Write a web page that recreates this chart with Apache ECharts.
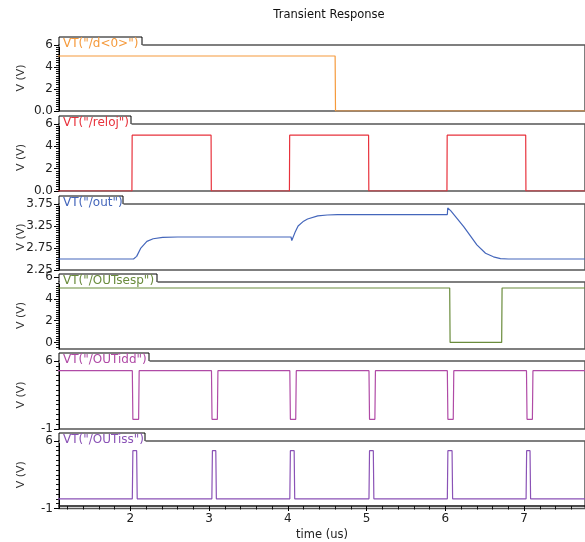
<!DOCTYPE html>
<html>
<head>
<meta charset="utf-8">
<script src="https://cdn.jsdelivr.net/npm/echarts@6/dist/echarts.min.js"></script>
<style>
html, body { margin: 0; padding: 0; background: #fff; }
#chart { width: 585px; height: 542px; }
</style>
</head>
<body>
<div id="chart"></div>
<script>
// signal names and colours
var signalNames = ['VT("/d<0>")', 'VT("/reloj")', 'VT("/out")', 'VT("/OUTsesp")', 'VT("/OUTidd")', 'VT("/OUTiss")'];
var signalColors = ['#f59a3c', '#e8323c', '#4466bb', '#6a8c3c', '#b04aa6', '#8a52b6'];

// waveforms, time in us
var d0T = [1.0, 4.60, 4.605, 7.8];
var d0V = [5, 5, 0, 0];

var relojT = [1.0, 2.02, 2.023, 3.025, 3.028, 4.02, 4.023, 5.025, 5.028, 6.02, 6.023, 7.02, 7.023, 7.8];
var relojV = [0, 0, 5, 5, 0, 0, 5, 5, 0, 0, 5, 5, 0, 0];

var outT = [1.0, 2.04, 2.05, 2.08, 2.13, 2.21, 2.29, 2.41, 2.6, 4.04, 4.05, 4.09, 4.13, 4.2, 4.25, 4.38, 4.5, 4.63, 6.025, 6.03, 6.045, 6.067, 6.15, 6.235, 6.32, 6.40, 6.51, 6.61, 6.70, 6.8, 7.8];
var outV = [2.5, 2.5, 2.46, 2.56, 2.74, 2.9, 2.96, 2.99, 3.0, 3.0, 2.92, 3.1, 3.25, 3.36, 3.41, 3.48, 3.5, 3.51, 3.51, 3.66, 3.62, 3.6, 3.42, 3.23, 3.02, 2.82, 2.63, 2.55, 2.51, 2.5, 2.5];

var sespT = [1.0, 6.055, 6.06, 6.715, 6.72, 7.8];
var sespV = [5, 5, 0, 0, 5, 5];

var iddT = [1.0, 2.025, 2.032, 2.105, 2.112, 3.03, 3.037, 3.105, 3.112, 4.025, 4.032, 4.10, 4.107, 5.03, 5.037, 5.105, 5.112, 6.025, 6.032, 6.10, 6.107, 7.03, 7.037, 7.105, 7.112, 7.8];
var iddV = [5, 5, 0, 0, 5, 5, 0, 0, 5, 5, 0, 0, 5, 5, 0, 0, 5, 5, 0, 0, 5, 5, 0, 0, 5, 5];

var issT = [1.0, 2.025, 2.032, 2.08, 2.087, 3.035, 3.042, 3.085, 3.092, 4.025, 4.032, 4.08, 4.087, 5.03, 5.037, 5.085, 5.092, 6.025, 6.032, 6.085, 6.092, 7.025, 7.032, 7.075, 7.082, 7.8];
var issV = [0, 0, 5, 5, 0, 0, 5, 5, 0, 0, 5, 5, 0, 0, 5, 5, 0, 0, 5, 5, 0, 0, 5, 5, 0, 0];

var signalT = [d0T, relojT, outT, sespT, iddT, issT];
var signalV = [d0V, relojV, outV, sespV, iddV, issV];

// axes
var yMin = [0, 0, 2.25, -0.6, -1, -1];
var yMax = [6, 6, 3.75, 5.55, 6, 6];
var yMinor = [
  [0.2, 0.4, 0.6, 0.8, 1, 1.2, 1.4, 1.6, 1.8, 2, 2.2, 2.4, 2.6, 2.8, 3, 3.2, 3.4, 3.6, 3.8, 4, 4.2, 4.4, 4.6, 4.8, 5, 5.2, 5.4, 5.6, 5.8],
  [0.2, 0.4, 0.6, 0.8, 1, 1.2, 1.4, 1.6, 1.8, 2, 2.2, 2.4, 2.6, 2.8, 3, 3.2, 3.4, 3.6, 3.8, 4, 4.2, 4.4, 4.6, 4.8, 5, 5.2, 5.4, 5.6, 5.8],
  [2.3, 2.35, 2.4, 2.45, 2.5, 2.55, 2.6, 2.65, 2.7, 2.75, 2.8, 2.85, 2.9, 2.95, 3, 3.05, 3.1, 3.15, 3.2, 3.25, 3.3, 3.35, 3.4, 3.45, 3.5, 3.55, 3.6, 3.65, 3.7],
  [-0.4, -0.2, 0, 0.2, 0.4, 0.6, 0.8, 1, 1.2, 1.4, 1.6, 1.8, 2, 2.2, 2.4, 2.6, 2.8, 3, 3.2, 3.4, 3.6, 3.8, 4, 4.2, 4.4, 4.6, 4.8, 5, 5.2, 5.4],
  [-0.5, 0, 0.5, 1, 1.5, 2, 2.5, 3, 3.5, 4, 4.5, 5, 5.5],
  [-0.5, 0, 0.5, 1, 1.5, 2, 2.5, 3, 3.5, 4, 4.5, 5, 5.5]
];
var yMajor = [[0, 2, 4, 6], [0, 2, 4, 6], [2.25, 2.75, 3.25, 3.75], [0, 2, 4, 6], [-1, 6], [-1, 6]];
var xMin = 1.094, xMax = 7.773;
var xMajor = [2, 3, 4, 5, 6, 7];
var xMinor = [1.2, 1.4, 1.6, 1.8, 2.2, 2.4, 2.6, 2.8, 3.2, 3.4, 3.6, 3.8, 4.2, 4.4, 4.6, 4.8,
  5.2, 5.4, 5.6, 5.8, 6.2, 6.4, 6.6, 6.8, 7.2, 7.4, 7.6];

// layout
var FONT = 'DejaVu Sans';
var plotLeft = 59;
var panelTop = [45, 124, 204, 282, 361, 441];
var panelBottom = [111, 191, 270, 349, 429, 508.5];
var tabWidth = [83, 72, 64, 98, 90, 86];

function yLabel(i, v) {
    if (i < 2 && v === 0) return '0.0';
    if (i === 2) return v.toFixed(2);
    return String(v);
}

var grids = [], xAxes = [], yAxes = [], series = [], graphics = [];

for (var i = 0; i < 6; i++) {
    var h = panelBottom[i] - panelTop[i];
    var pxPer = h / (yMax[i] - yMin[i]);
    var labelMax = Math.max(yMax[i], yMajor[i][yMajor[i].length - 1]);
    var labelTop = panelBottom[i] - (labelMax - yMin[i]) * pxPer;

    // grid 3i: curve, 3i+1: major ticks + labels, 3i+2: minor ticks
    grids.push({ left: plotLeft, width: 531, top: panelTop[i], height: h, show: true,
        borderColor: '#555', borderWidth: 1.5, backgroundColor: 'transparent' });
    grids.push({ left: plotLeft, width: 531, top: labelTop, height: panelBottom[i] - labelTop, show: false });
    grids.push({ left: plotLeft, width: 531, top: labelTop, height: panelBottom[i] - labelTop, show: false });
    for (var g = 0; g < 3; g++) {
        xAxes.push({ gridIndex: 3 * i + g, type: 'value', min: xMin, max: xMax, show: false });
    }

    (function (idx) {
        yAxes.push({
            gridIndex: 3 * idx, type: 'value', position: 'left', min: yMin[idx], max: yMax[idx],
            name: 'V (V)', nameLocation: 'middle', nameGap: 32,
            nameTextStyle: { fontFamily: FONT, fontSize: 11, color: '#333' },
            axisLine: { show: true, onZero: false, lineStyle: { color: '#000', width: 1 } },
            axisTick: { show: false },
            axisLabel: { show: false },
            splitLine: { show: false }
        });
        yAxes.push({
            gridIndex: 3 * idx + 1, type: 'value', position: 'left', min: yMin[idx], max: labelMax,
            axisLine: { show: false },
            axisTick: { show: true, length: 5, customValues: yMajor[idx], lineStyle: { color: '#000' } },
            axisLabel: { show: true, customValues: yMajor[idx], margin: 6, fontFamily: FONT, fontSize: 12, color: '#222',
                formatter: function (v) { return yLabel(idx, v); } },
            splitLine: { show: false }
        });
        yAxes.push({
            gridIndex: 3 * idx + 2, type: 'value', position: 'left', min: yMin[idx], max: labelMax,
            axisLine: { show: false },
            axisTick: { show: true, length: 3, customValues: yMinor[idx], lineStyle: { color: '#111' } },
            axisLabel: { show: false },
            splitLine: { show: false }
        });
    })(i);

    var pts = [];
    for (var k = 0; k < signalT[i].length; k++) pts.push([signalT[i][k], signalV[i][k]]);
    series.push({
        name: signalNames[i], type: 'line', xAxisIndex: 3 * i, yAxisIndex: 3 * i, data: pts,
        showSymbol: false, symbol: 'none', silent: true,
        lineStyle: { color: signalColors[i], width: 1.2 }, itemStyle: { color: signalColors[i] }
    });

    var tabTop = panelTop[i] - 8;
    graphics.push({ type: 'rect', z: 100, shape: { x: plotLeft + 0.5, y: tabTop, width: tabWidth[i], height: 10 },
        style: { fill: '#fff' } });
    graphics.push({ type: 'polyline', z: 101,
        shape: { points: [[plotLeft, panelTop[i]], [plotLeft, tabTop], [plotLeft + tabWidth[i], tabTop], [plotLeft + tabWidth[i], panelTop[i]]] },
        style: { stroke: '#000', lineWidth: 1, fill: null } });
    graphics.push({ type: 'text', z: 102, x: plotLeft + 4, y: tabTop + 0.5,
        style: { text: signalNames[i], fill: signalColors[i], font: '12px "' + FONT + '"', verticalAlign: 'top' } });
}

// time axis on its own grid (index 18)
grids.push({ left: plotLeft, width: 531, top: panelTop[5], height: panelBottom[5] - panelTop[5], show: false });
yAxes.push({ gridIndex: 18, type: 'value', min: 0, max: 1, show: false });
xAxes.push({
    gridIndex: 18, type: 'value', position: 'bottom', min: xMin, max: xMax,
    axisLine: { show: true, onZero: false, lineStyle: { color: '#111', width: 1.5 } },
    axisTick: { show: true, length: 3.5, customValues: xMinor, lineStyle: { color: '#111' } },
    axisLabel: { show: false },
    splitLine: { show: false }
});
xAxes.push({
    gridIndex: 18, type: 'value', position: 'bottom', min: xMin, max: xMax,
    name: 'time (us)', nameLocation: 'middle', nameGap: 23,
    nameTextStyle: { fontFamily: FONT, fontSize: 11.5, color: '#222' },
    axisLine: { show: false, onZero: false },
    axisTick: { show: true, length: 5, customValues: xMajor, lineStyle: { color: '#000' } },
    axisLabel: { show: true, customValues: xMajor, margin: 7, fontFamily: FONT, fontSize: 12, color: '#222' },
    splitLine: { show: false }
});

var chart = echarts.init(document.getElementById('chart'));
chart.setOption({
    animation: false,
    backgroundColor: '#fff',
    title: {
        text: 'Transient Response', left: 324, top: 4, textAlign: 'center',
        textStyle: { fontFamily: FONT, fontSize: 11.5, fontWeight: 'normal', color: '#111' }
    },
    grid: grids,
    xAxis: xAxes,
    yAxis: yAxes,
    series: series,
    graphic: graphics
});
</script>
</body>
</html>
